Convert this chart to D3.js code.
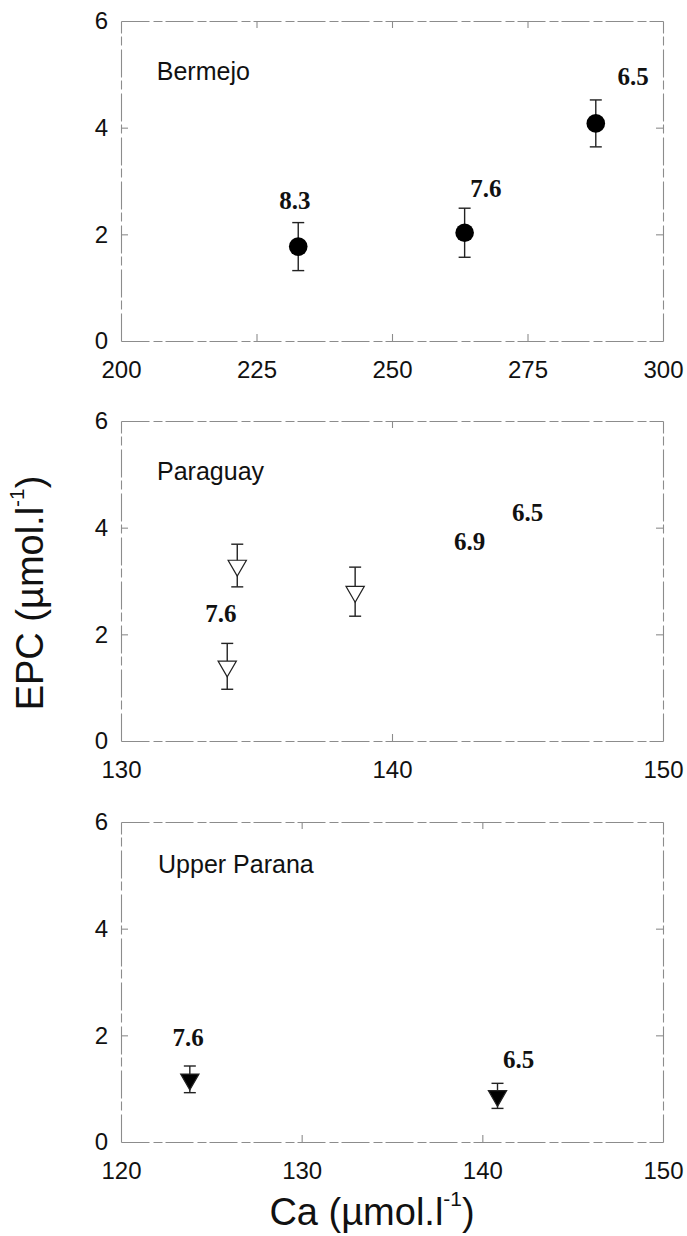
<!DOCTYPE html>
<html>
<head>
<meta charset="utf-8">
<script src="https://cdn.jsdelivr.net/npm/d3@7"></script>
<style>
	body { margin: 0; background: #fff; }
	svg { display: block; }
	.frame path.domain { stroke: #8c8c8c; stroke-width: 1.1; stroke-dasharray: 28 4 9 3; }
	.frame line { stroke: #8c8c8c; stroke-width: 1.1; }
	.tick text { font-family: "Liberation Sans", Arial, sans-serif; font-size: 24px; fill: #111; }
	.titre { font-family: "Liberation Sans", Arial, sans-serif; font-size: 25px; fill: #111; }
	.ph { font-family: "Liberation Serif", "Times New Roman", serif; font-weight: bold; font-size: 25px; fill: #111; }
	.axe { font-family: "Liberation Sans", Arial, sans-serif; font-size: 38px; fill: #111; }
	.barre { stroke: #222; stroke-width: 1.4; }
</style>
</head>
<body>
<svg id="chart" width="687" height="1236"></svg>
<script>
// valeurs
const yTicks = [0, 2, 4, 6];

// Bermejo
const bermejoCa = [232.7, 263.4, 287.6];
const bermejoEpc = [1.77, 2.03, 4.08];
const bermejoErr = [0.45, 0.46, 0.44];
const bermejoPh = ["8.3", "7.6", "6.5"];
const bermejoPhCa = [232.1, 267.3, 294.5];
const bermejoPhEpc = [2.64, 2.86, 4.97];
const bermejoTicks = [200, 225, 250, 275, 300];

// Paraguay
const paraguayCa = [134.29, 133.92, 138.64];
const paraguayEpc = [3.29, 1.40, 2.80];
const paraguayErr = [0.40, 0.43, 0.46];
const paraguayPh = ["7.6", "6.9", "6.5"];
const paraguayPhCa = [133.69, 142.86, 145.0];
const paraguayPhEpc = [2.39, 3.75, 4.28];
const paraguayTicks = [130, 140, 150];

// Upper Parana
const paranaCa = [123.81, 140.84];
const paranaEpc = [1.175, 0.865];
const paranaErr = [0.25, 0.235];
const paranaPh = ["7.6", "6.5"];
const paranaPhCa = [123.71, 142.01];
const paranaPhEpc = [1.96, 1.56];
const paranaTicks = [120, 130, 140, 150];

const panels = [
	{ nom: "Bermejo", titre: [206.6, 4.89], ca: bermejoCa, epc: bermejoEpc, err: bermejoErr,
		ph: bermejoPh, phCa: bermejoPhCa, phEpc: bermejoPhEpc, ticks: bermejoTicks, symbole: "cercle" },
	{ nom: "Paraguay", titre: [131.33, 4.89], ca: paraguayCa, epc: paraguayEpc, err: paraguayErr,
		ph: paraguayPh, phCa: paraguayPhCa, phEpc: paraguayPhEpc, ticks: paraguayTicks, symbole: "triangle_vide" },
	{ nom: "Upper Parana", titre: [122.05, 5.04], ca: paranaCa, epc: paranaEpc, err: paranaErr,
		ph: paranaPh, phCa: paranaPhCa, phEpc: paranaPhEpc, ticks: paranaTicks, symbole: "triangle_plein" }
];

const dims = { left: 121, right: 663, height: 320, tops: [21, 421, 822] };

const svg = d3.select("#chart");
const triangle = d3.symbol(d3.symbolTriangle, 145);

panels.forEach((p, k) => {
	const top = dims.tops[k];
	const x = d3.scaleLinear()
		.domain(d3.extent(p.ticks))
		.range([0, dims.right - dims.left]);
	const y = d3.scaleLinear()
		.domain([0, 6])
		.range([dims.height, 0]);

	const g = svg.append("g")
		.attr("transform", "translate(" + dims.left + "," + top + ")");

	// cadre avec graduations vers l'interieur
	g.append("g")
		.attr("class", "frame")
		.attr("transform", "translate(0," + dims.height + ")")
		.call(d3.axisBottom(x).tickValues(p.ticks).tickFormat(d3.format("d"))
			.tickSizeInner(-7).tickSizeOuter(0).tickPadding(20));
	g.append("g")
		.attr("class", "frame")
		.call(d3.axisTop(x).tickValues(p.ticks).tickSizeInner(-7).tickSizeOuter(0).tickFormat(""));
	g.append("g")
		.attr("class", "frame")
		.call(d3.axisLeft(y).tickValues(yTicks).tickFormat(d3.format("d"))
			.tickSizeInner(-7).tickSizeOuter(0).tickPadding(13));
	g.append("g")
		.attr("class", "frame")
		.attr("transform", "translate(" + (dims.right - dims.left) + ",0)")
		.call(d3.axisRight(y).tickValues(yTicks).tickSizeInner(-7).tickSizeOuter(0).tickFormat(""));
	g.selectAll(".frame .tick")
		.filter(d => d === 0 || d === 6 || d === p.ticks[0] || d === p.ticks[p.ticks.length - 1])
		.select("line").remove();

	g.append("text")
		.attr("class", "titre")
		.attr("x", x(p.titre[0]))
		.attr("y", y(p.titre[1]))
		.text(p.nom);

	const pts = p.ca.map((c, i) => ({ ca: c, epc: p.epc[i], err: p.err[i] }));

	// barres d'erreur
	const eb = g.append("g").selectAll("g").data(pts).join("g");
	eb.append("line").attr("class", "barre")
		.attr("x1", d => x(d.ca)).attr("x2", d => x(d.ca))
		.attr("y1", d => y(d.epc + d.err)).attr("y2", d => y(d.epc - d.err));
	eb.append("line").attr("class", "barre")
		.attr("x1", d => x(d.ca) - 6).attr("x2", d => x(d.ca) + 6)
		.attr("y1", d => y(d.epc + d.err)).attr("y2", d => y(d.epc + d.err));
	eb.append("line").attr("class", "barre")
		.attr("x1", d => x(d.ca) - 6).attr("x2", d => x(d.ca) + 6)
		.attr("y1", d => y(d.epc - d.err)).attr("y2", d => y(d.epc - d.err));

	if (p.symbole === "cercle") {
		g.append("g").selectAll("circle").data(pts).join("circle")
			.attr("cx", d => x(d.ca))
			.attr("cy", d => y(d.epc))
			.attr("r", 9.3)
			.attr("fill", "#000");
	} else {
		g.append("g").selectAll("path").data(pts).join("path")
			.attr("d", triangle)
			.attr("transform", d => "translate(" + x(d.ca) + "," + y(d.epc) + ") rotate(180)")
			.attr("fill", p.symbole === "triangle_plein" ? "#000" : "#fff")
			.attr("stroke", "#222")
			.attr("stroke-width", 1.2);
	}

	// valeurs de pH
	g.append("g").selectAll("text").data(p.ph).join("text")
		.attr("class", "ph")
		.attr("text-anchor", "middle")
		.attr("dy", "0.35em")
		.attr("x", (d, i) => x(p.phCa[i]))
		.attr("y", (d, i) => y(p.phEpc[i]))
		.text(d => d);
});

// titres des axes
const yTitle = svg.append("text")
	.attr("class", "axe")
	.attr("text-anchor", "middle")
	.attr("transform", "translate(43,593) rotate(-90)");
yTitle.append("tspan").text("EPC (µmol.l");
yTitle.append("tspan").attr("font-size", "0.55em").attr("dy", "-0.9em").text("-1");
yTitle.append("tspan").attr("dy", "0.5em").text(")");

const xTitle = svg.append("text")
	.attr("class", "axe")
	.attr("text-anchor", "middle")
	.attr("transform", "translate(372,1225)");
xTitle.append("tspan").text("Ca (µmol.l");
xTitle.append("tspan").attr("font-size", "0.55em").attr("dy", "-0.9em").text("-1");
xTitle.append("tspan").attr("dy", "0.5em").text(")");
</script>
</body>
</html>
